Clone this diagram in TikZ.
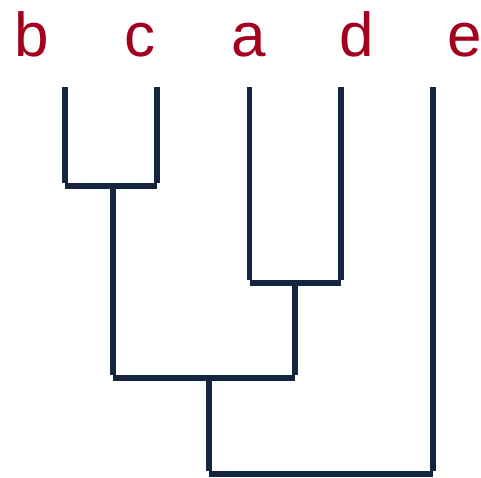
\documentclass[tikz,border=0pt]{standalone}
\usepackage{fontspec}
\setmainfont{Liberation Sans}
\definecolor{lab}{HTML}{A3001F}
\definecolor{branch}{HTML}{13253F}
\begin{document}
\begin{tikzpicture}[x=1pt,y=-1pt,
  br/.style={draw=branch,line width=5.8pt,line cap=butt},
  lbl/.style={text=lab,font=\fontsize{62}{62}\selectfont,anchor=base,inner sep=0pt}]
\useasboundingbox (0,0) rectangle (481,477);
% labels
\node[lbl] (lb) at (31.5,56) {b};
\node[lbl] (lc) at (140,56) {c};
\node[lbl] (la) at (249,56) {a};
\node[lbl] (ld) at (357,56) {d};
\node[lbl] (le) at (465,56) {e};
% leaf tops
\coordinate (tb) at (65,87);
\coordinate (tc) at (157,87);
\coordinate (ta) at (249.5,87);
\coordinate (td) at (341,87);
\coordinate (te) at (433,87);
% vertical ends
\coordinate (vb) at (65,183);
\coordinate (vc) at (157,183);
\coordinate (va) at (249.5,280);
\coordinate (vd) at (341,280);
\coordinate (bcT) at (113,189);
\coordinate (bcB) at (113,375);
\coordinate (adT) at (295,286);
\coordinate (adB) at (295,375);
\coordinate (rT) at (209,381);
\coordinate (rB) at (209,471);
\coordinate (ve) at (433,471);
% bars
\coordinate (hb) at (65,186);
\coordinate (hc) at (157,186);
\coordinate (ha) at (249.5,283);
\coordinate (hd) at (341,283);
\coordinate (hbc) at (113,378);
\coordinate (had) at (295,378);
\coordinate (hr) at (209,474);
\coordinate (he) at (433,474);
\draw[br] (tb) -- (vb);
\draw[br] (tc) -- (vc);
\draw[br] (ta) -- (va);
\draw[br] (td) -- (vd);
\draw[br] (te) -- (ve);
\draw[br] (hb) -- (hc);
\draw[br] (ha) -- (hd);
\draw[br] (bcT) -- (bcB);
\draw[br] (adT) -- (adB);
\draw[br] (hbc) -- (had);
\draw[br] (rT) -- (rB);
\draw[br] (hr) -- (he);
\end{tikzpicture}
\end{document}
